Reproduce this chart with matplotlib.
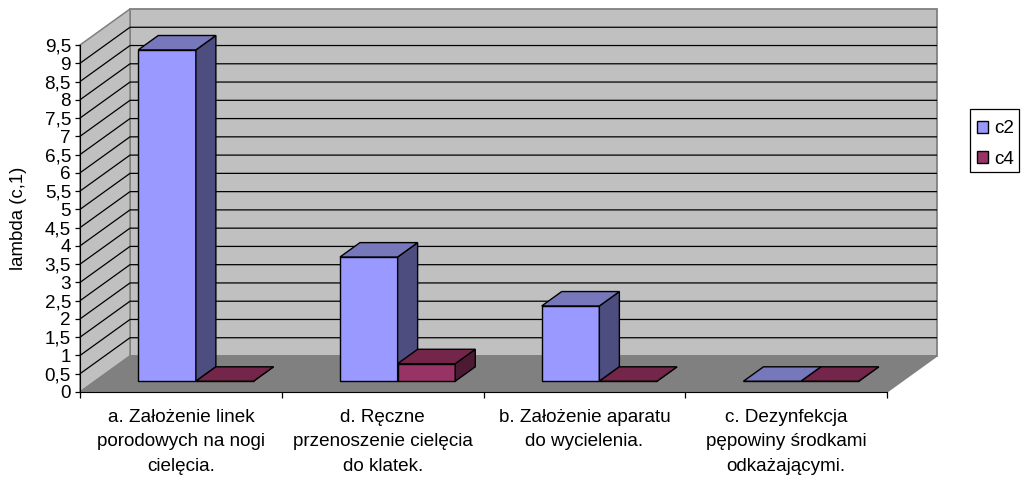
import matplotlib
matplotlib.use("Agg")
import matplotlib.pyplot as plt
from matplotlib.patches import Patch, Rectangle

plt.rcParams['font.family'] = ['Liberation Sans', 'DejaVu Sans']

categories = ["a. Założenie linek\nporodowych na nogi\ncielęcia.",
              "d. Ręczne\nprzenoszenie cielęcia\ndo klatek.",
              "b. Założenie aparatu\ndo wycielenia.",
              "c. Dezynfekcja\npępowiny środkami\nodkażającymi."]
c2 = [9.07, 3.40, 2.06, 0]
c4 = [0, 0.48, 0, 0]
y_ticks = [0, 0.5, 1, 1.5, 2, 2.5, 3, 3.5, 4, 4.5, 5, 5.5, 6, 6.5, 7, 7.5, 8, 8.5, 9, 9.5]
y_labels = ["0", "0,5", "1", "1,5", "2", "2,5", "3", "3,5", "4", "4,5",
            "5", "5,5", "6", "6,5", "7", "7,5", "8", "8,5", "9", "9,5"]

W, H = 1021, 480
fig = plt.figure(figsize=(W / 100, H / 100), dpi=100)
# axes is the front plane of the 3d box, everything else hangs off it unclipped
ax = fig.add_axes([80 / W, 1 - 392 / H, 807 / W, 347 / H])
ax.set_xlim(0, 4)
ax.set_ylim(0, 9.5)

DX = 50 / 807 * 4     # depth of the box in category units
DY = 36 / 347 * 9.5   # depth of the box in value units
BAR_W = 1 / 3.5
GAP = 0.75 / 3.5


def poly(xs, ys, color, z, edge="black", lw=1.0):
    ax.fill(xs, ys, facecolor=color, edgecolor=edge, linewidth=lw, zorder=z,
            clip_on=False, joinstyle="miter")


def line(xs, ys, color, z, lw=0.9):
    ax.plot(xs, ys, color=color, linewidth=lw, zorder=z, clip_on=False,
            solid_capstyle="butt")


def bar3d(x0, v, front, side, top, z):
    d0, d1 = 0.3, 0.7
    x1 = x0 + BAR_W
    ox0, oy0 = d0 * DX, d0 * DY
    ox1, oy1 = d1 * DX, d1 * DY
    # y is measured on the front plane, then shifted back by the depth
    poly([x0 + ox0, x1 + ox0, x1 + ox0, x0 + ox0], [oy0, oy0, v + oy0, v + oy0], front, z)
    poly([x1 + ox0, x1 + ox1, x1 + ox1, x1 + ox0], [oy0, oy1, v + oy1, v + oy0], side, z)
    poly([x0 + ox0, x1 + ox0, x1 + ox1, x0 + ox1], [v + oy0, v + oy0, v + oy1, v + oy1], top, z)


# walls and floor
poly([DX, 4 + DX, 4 + DX, DX], [DY, DY, 9.5 + DY, 9.5 + DY], "#c0c0c0", 1, edge="#808080", lw=1.3)
poly([0, DX, DX, 0], [0, DY, 9.5 + DY, 9.5], "#c0c0c0", 1, edge="#808080", lw=1.1)
poly([0, 4, 4 + DX, DX], [0, 0, DY, DY], "#808080", 2, edge="#808080", lw=1.0)

# gridlines run along the side wall and across the back wall
for v in y_ticks[1:-1]:
    line([0, DX, 4 + DX], [v, v + DY, v + DY], "black", 1.5)

for i in range(len(categories)):
    x0 = i + GAP
    bar3d(x0, c2[i], "#9999ff", "#4d4d80", "#7777bb", 3 + i)
    bar3d(x0 + BAR_W, c4[i], "#993366", "#4d1a33", "#732649", 3 + i)

for side in ["top", "right"]:
    ax.spines[side].set_visible(False)
ax.spines["left"].set_zorder(20)
ax.spines["bottom"].set_zorder(20)
ax.patch.set_visible(False)

ax.set_yticks(y_ticks)
ax.set_yticklabels(y_labels, fontsize=13.6)
ax.set_xticks([0, 1, 2, 3, 4])
ax.set_xticklabels([])
ax.set_xticks([0.5, 1.5, 2.5, 3.5], minor=True)
ax.set_xticklabels(categories, minor=True, fontsize=13.6, linespacing=1.58, va="top")
ax.tick_params(axis="y", length=3.5, width=0.9, pad=3)
ax.tick_params(axis="x", which="major", length=4, width=0.9)
ax.tick_params(axis="x", which="minor", length=0, pad=12)
ax.set_ylabel("lambda (c,1)", fontsize=13.4)
ax.yaxis.set_label_coords(-53 / 807, 0.5)

handles = [Patch(facecolor="#9999ff", edgecolor="black", linewidth=1.0, label="c2"),
           Patch(facecolor="#993366", edgecolor="black", linewidth=1.0, label="c4")]
# legend box is uneven around the rows, so the frame is its own rectangle
fig.add_artist(Rectangle((969.5 / W, 1 - 172 / H), 49.5 / W, 62.5 / H, transform=fig.transFigure,
                         facecolor="white", edgecolor="black", linewidth=0.9))
leg = fig.legend(handles=handles, loc="upper left", bbox_to_anchor=(970 / W, 1 - 113.5 / H),
                 fontsize=13.6, frameon=False,
                 handlelength=0.58, handleheight=0.58, handletextpad=0.33,
                 borderpad=0.36, labelspacing=0.72, borderaxespad=0)

fig.savefig("out.png", dpi=100)
